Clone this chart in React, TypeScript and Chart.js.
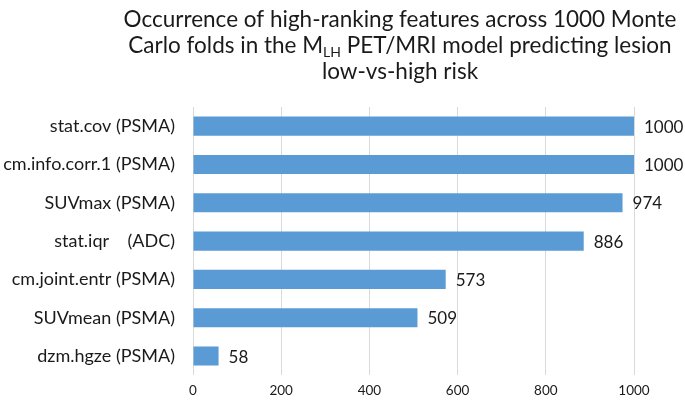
import React, { useEffect, useRef } from 'react';
import { Chart, registerables } from 'chart.js';

Chart.register(...registerables);

const categories = [
  'stat.cov (PSMA)',
  'cm.info.corr.1 (PSMA)',
  'SUVmax (PSMA)',
  'stat.iqr    (ADC)',
  'cm.joint.entr (PSMA)',
  'SUVmean (PSMA)',
  'dzm.hgze (PSMA)',
];
const values = [1000, 1000, 974, 886, 573, 509, 58];
const xMin = 0;
const xMax = 1000;
const xStep = 200;

const titleLine1 = 'Occurrence of high-ranking features across 1000 Monte';
const titleLine2a = 'Carlo folds in the M';
const titleLine2sub = 'LH';
const titleLine2b = ' PET/MRI model predicting lesion';
const titleLine3 = 'low-vs-high risk';

const FONT = 'Lato, "Open Sans", sans-serif';
const TEXT = '#1a1a1a';
const BAR = '#5B9BD5';

const titlePlugin = {
  id: 'customTitle',
  afterDraw(chart: any) {
    const ctx = chart.ctx;
    ctx.save();
    ctx.fillStyle = TEXT;
    ctx.textBaseline = 'middle';
    const cx = 400;
    const big = `22.5px ${FONT}`;
    const small = `14px ${FONT}`;
    ctx.font = big;
    ctx.textAlign = 'center';
    ctx.fillText(titleLine1, cx, 20);
    ctx.fillText(titleLine3, cx, 72);
    ctx.textAlign = 'left';
    ctx.font = big;
    const wa = ctx.measureText(titleLine2a).width;
    const wb = ctx.measureText(titleLine2b).width;
    ctx.font = small;
    const ws = ctx.measureText(titleLine2sub).width;
    const total = wa + ws + wb;
    let x = cx - total / 2;
    ctx.font = big;
    ctx.fillText(titleLine2a, x, 46);
    x += wa;
    ctx.font = small;
    ctx.fillText(titleLine2sub, x, 52);
    x += ws;
    ctx.font = big;
    ctx.fillText(titleLine2b, x, 46);
    ctx.restore();
  },
};

const labelPlugin = {
  id: 'barLabels',
  afterDatasetsDraw(chart: any) {
    const ctx = chart.ctx;
    const meta = chart.getDatasetMeta(0);
    ctx.save();
    ctx.fillStyle = TEXT;
    ctx.font = `17px ${FONT}`;
    ctx.textAlign = 'left';
    ctx.textBaseline = 'middle';
    meta.data.forEach((bar: any, i: number) => {
      ctx.fillText(String(values[i]), bar.x + 10, bar.y + 1);
    });
    ctx.restore();
  },
};

export default function App() {
  const ref = useRef<HTMLCanvasElement>(null);
  useEffect(() => {
    document.body.style.margin = '0';
    const chart = new Chart(ref.current!, {
      type: 'bar',
      data: {
        labels: categories,
        datasets: [
          {
            data: values,
            backgroundColor: BAR,
            borderWidth: 0,
            barPercentage: 0.5,
            categoryPercentage: 1,
          },
        ],
      },
      options: {
        indexAxis: 'y',
        animation: false,
        responsive: false,
        maintainAspectRatio: false,
        layout: { padding: { top: 107, right: 51, bottom: 0, left: 0 } },
        plugins: {
          legend: { display: false },
          title: { display: false },
          tooltip: { enabled: false },
        },
        scales: {
          x: {
            min: xMin,
            max: xMax,
            ticks: {
              stepSize: xStep,
              color: TEXT,
              font: { family: FONT, size: 13.5 },
              padding: 7,
              callback: (v: any) => String(v),
            },
            grid: { color: '#d9d9d9', lineWidth: 1, drawTicks: false },
            border: { display: false },
            afterFit(scale: any) {
              scale.height = 26;
            },
          },
          y: {
            ticks: {
              color: TEXT,
              font: { family: FONT, size: 18 },
              padding: 18,
              autoSkip: false,
            },
            grid: { display: false, drawTicks: false },
            border: { display: false },
            afterFit(scale: any) {
              scale.width = 193;
            },
          },
        },
      },
      plugins: [titlePlugin, labelPlugin],
    });
    return () => chart.destroy();
  }, []);
  return (
    <div style={{ width: 685, height: 404, background: '#fff' }}>
      <canvas ref={ref} width={685} height={404} />
    </div>
  );
}
